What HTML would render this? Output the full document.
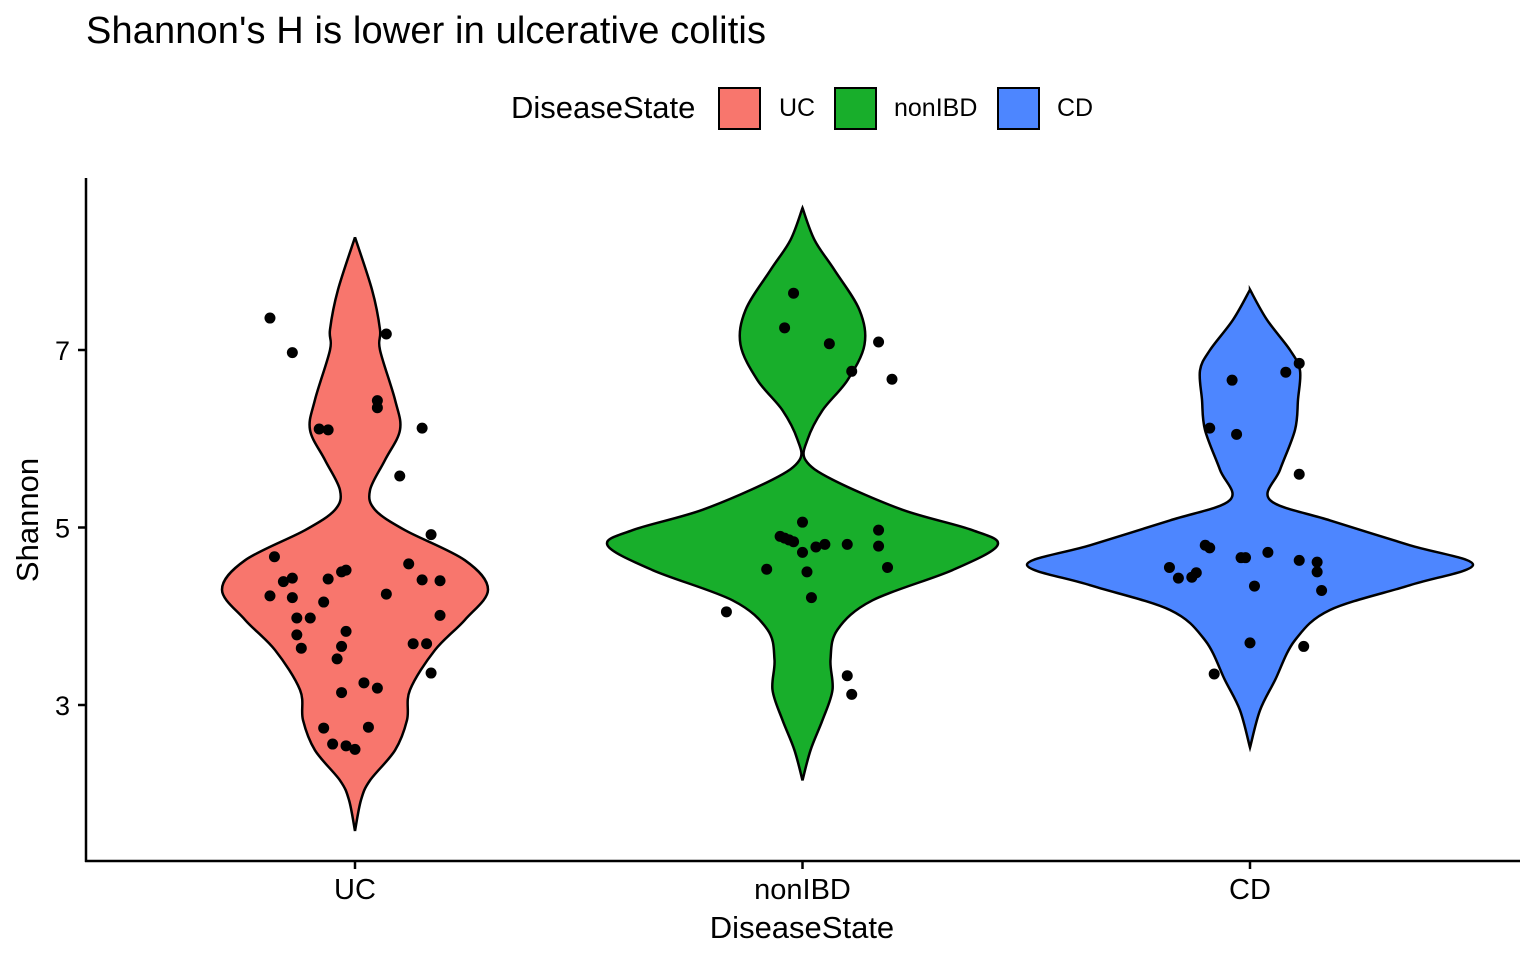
<!DOCTYPE html>
<html><head><meta charset="utf-8"><style>
body{margin:0;background:#fff;}
svg text{font-family:"Liberation Sans",Arial,sans-serif;fill:#000;}
</style></head><body>
<svg id="chart" width="1536" height="960" viewBox="0 0 1536 960" xmlns="http://www.w3.org/2000/svg">
<rect width="1536" height="960" fill="#fff"/>
<text x="86" y="43" font-size="38" textLength="680">Shannon's H is lower in ulcerative colitis</text>
<g>
<text x="511" y="118" font-size="31">DiseaseState</text>
<g><rect x="719" y="88" width="41" height="41" fill="#F8766D" stroke="#000" stroke-width="2"/><text x="779" y="116" font-size="25">UC</text></g>
<g><rect x="835" y="88" width="41" height="41" fill="#18AE2B" stroke="#000" stroke-width="2"/><text x="894" y="116" font-size="25">nonIBD</text></g>
<g><rect x="998" y="88" width="41" height="41" fill="#4D86FF" stroke="#000" stroke-width="2"/><text x="1057" y="116" font-size="25">CD</text></g>
</g>
<g id="plot"></g>
<line x1="86" y1="178" x2="86" y2="862" stroke="#000" stroke-width="2.5"/>
<line x1="85" y1="861" x2="1520" y2="861" stroke="#000" stroke-width="2.5"/>
<text x="802" y="938" font-size="31" text-anchor="middle">DiseaseState</text>
<text transform="translate(38,520) rotate(-90)" font-size="31" text-anchor="middle">Shannon</text>
</svg>
<script>
const categories = ["UC","nonIBD","CD"];
const fills = ["#F8766D","#18AE2B","#4D86FF"];
const yTicks = [3,5,7];
// violin density profiles: [value, density]
const violinUC = [[8.27,0],[7.68,0.17],[7.23,0.25],[7.0,0.25],[6.44,0.40],[6.10,0.45],[5.76,0.30],[5.42,0.15],[5.20,0.20],[4.97,0.50],[4.63,1.10],[4.30,1.33],[3.96,1.10],[3.62,0.80],[3.17,0.55],[2.83,0.52],[2.49,0.40],[2.15,0.15],[1.93,0.06],[1.58,0]];
const violinNon = [[8.60,0],[8.24,0.12],[7.90,0.32],[7.45,0.57],[7.06,0.62],[6.66,0.45],[6.32,0.20],[5.99,0.05],[5.76,0.03],[5.54,0.30],[5.20,1.00],[4.97,1.70],[4.80,1.95],[4.52,1.50],[4.18,0.70],[3.85,0.35],[3.51,0.28],[3.17,0.30],[2.83,0.20],[2.49,0.08],[2.15,0]];
const violinCD = [[7.68,0],[7.34,0.17],[7.0,0.40],[6.77,0.50],[6.44,0.48],[6.10,0.45],[5.65,0.30],[5.31,0.20],[5.08,0.80],[4.80,1.60],[4.58,2.23],[4.35,1.60],[4.07,0.80],[3.73,0.45],[3.28,0.25],[2.94,0.10],[2.52,0]];
const violins = [violinUC, violinNon, violinCD];
const valsUC = [7.36,6.97,7.18,6.43,6.35,6.11,6.10,6.12,5.58,4.92,4.67,4.39,4.43,4.42,4.50,4.52,4.59,4.41,4.40,4.23,4.21,4.16,4.25,3.98,3.98,4.01,3.83,3.79,3.64,3.66,3.69,3.69,3.52,3.36,3.25,3.19,3.14,2.74,2.75,2.56,2.54,2.50];
const jitUC = [-0.19,-0.14,0.07,0.05,0.05,-0.08,-0.06,0.15,0.10,0.17,-0.18,-0.16,-0.14,-0.06,-0.03,-0.02,0.12,0.15,0.19,-0.19,-0.14,-0.07,0.07,-0.13,-0.10,0.19,-0.02,-0.13,-0.12,-0.03,0.13,0.16,-0.04,0.17,0.02,0.05,-0.03,-0.07,0.03,-0.05,-0.02,0];
const valsNon = [7.64,7.25,7.07,7.09,6.76,6.67,5.06,4.97,4.90,4.88,4.86,4.84,4.81,4.81,4.78,4.79,4.72,4.53,4.50,4.55,4.21,4.05,3.33,3.12];
const jitNon = [-0.02,-0.04,0.06,0.17,0.11,0.20,0,0.17,-0.05,-0.04,-0.03,-0.02,0.05,0.10,0.03,0.17,0,-0.08,0.01,0.19,0.02,-0.17,0.10,0.11];
const valsCD = [6.85,6.75,6.66,6.12,6.05,5.60,4.80,4.77,4.72,4.66,4.66,4.63,4.61,4.55,4.49,4.44,4.43,4.50,4.34,4.29,3.70,3.66,3.35];
const jitCD = [0.11,0.08,-0.04,-0.09,-0.03,0.11,-0.10,-0.09,0.04,-0.02,-0.01,0.11,0.15,-0.18,-0.12,-0.13,-0.16,0.15,0.01,0.16,0,0.12,-0.08];
const pointVals = [valsUC, valsNon, valsCD];
const pointJit = [jitUC, jitNon, jitCD];

const NS = "http://www.w3.org/2000/svg";
const plot = document.getElementById("plot");
const svg = document.getElementById("chart");
const y = v => 350 + (7 - v) * 88.75;
const band = 447.5;
const x = i => 355 + i * band;
const wScale = 100;

function spline(pts){
  let d = "M" + pts[0][0] + "," + pts[0][1];
  for (let i = 0; i < pts.length - 1; i++) {
    const p0 = pts[Math.max(0,i-1)], p1 = pts[i], p2 = pts[i+1], p3 = pts[Math.min(pts.length-1,i+2)];
    const c1x = p1[0] + (p2[0]-p0[0])/6, c1y = p1[1] + (p2[1]-p0[1])/6;
    const c2x = p2[0] - (p3[0]-p1[0])/6, c2y = p2[1] - (p3[1]-p1[1])/6;
    d += " C" + c1x.toFixed(1) + "," + c1y.toFixed(1) + " " + c2x.toFixed(1) + "," + c2y.toFixed(1) + " " + p2[0].toFixed(1) + "," + p2[1].toFixed(1);
  }
  return d;
}

yTicks.forEach(t => {
  const ln = document.createElementNS(NS,"line");
  ln.setAttribute("x1",78); ln.setAttribute("x2",86); ln.setAttribute("y1",y(t)); ln.setAttribute("y2",y(t));
  ln.setAttribute("stroke","#000"); ln.setAttribute("stroke-width","2.5");
  
  
  svg.appendChild(ln);
  const tx = document.createElementNS(NS,"text");
  tx.setAttribute("x",70); tx.setAttribute("y",y(t)+10); tx.setAttribute("font-size","27"); tx.setAttribute("text-anchor","end");
  tx.textContent = t;
  
  
  svg.appendChild(tx);
});

categories.forEach((c,i) => {
  const cx = x(i);
  const prof = violins[i];
  const right = prof.map(p => [cx + p[1]*wScale, y(p[0])]);
  const left = prof.slice().reverse().map(p => [cx - p[1]*wScale, y(p[0])]);
  const path = document.createElementNS(NS,"path");
  path.setAttribute("d", spline(right) + " L" + spline(left).slice(1) + " Z");
  path.setAttribute("fill", fills[i]); path.setAttribute("stroke","#000"); path.setAttribute("stroke-width","2.5");
  
  
  plot.appendChild(path);

  pointVals[i].forEach((v,k) => {
    const ci = document.createElementNS(NS,"circle");
    ci.setAttribute("cx", cx + pointJit[i][k]*band); ci.setAttribute("cy", y(v)); ci.setAttribute("r", 5.5);
    ci.setAttribute("fill","#000");
    
    
    plot.appendChild(ci);
  });

  const tk = document.createElementNS(NS,"line");
  tk.setAttribute("x1",cx); tk.setAttribute("x2",cx); tk.setAttribute("y1",861); tk.setAttribute("y2",869);
  tk.setAttribute("stroke","#000"); tk.setAttribute("stroke-width","2.5");
  
  
  svg.appendChild(tk);
  const lb = document.createElementNS(NS,"text");
  lb.setAttribute("x",cx); lb.setAttribute("y",899); lb.setAttribute("font-size","29"); lb.setAttribute("text-anchor","middle");
  lb.textContent = c;
  
  
  svg.appendChild(lb);
});
</script>
</body></html>
